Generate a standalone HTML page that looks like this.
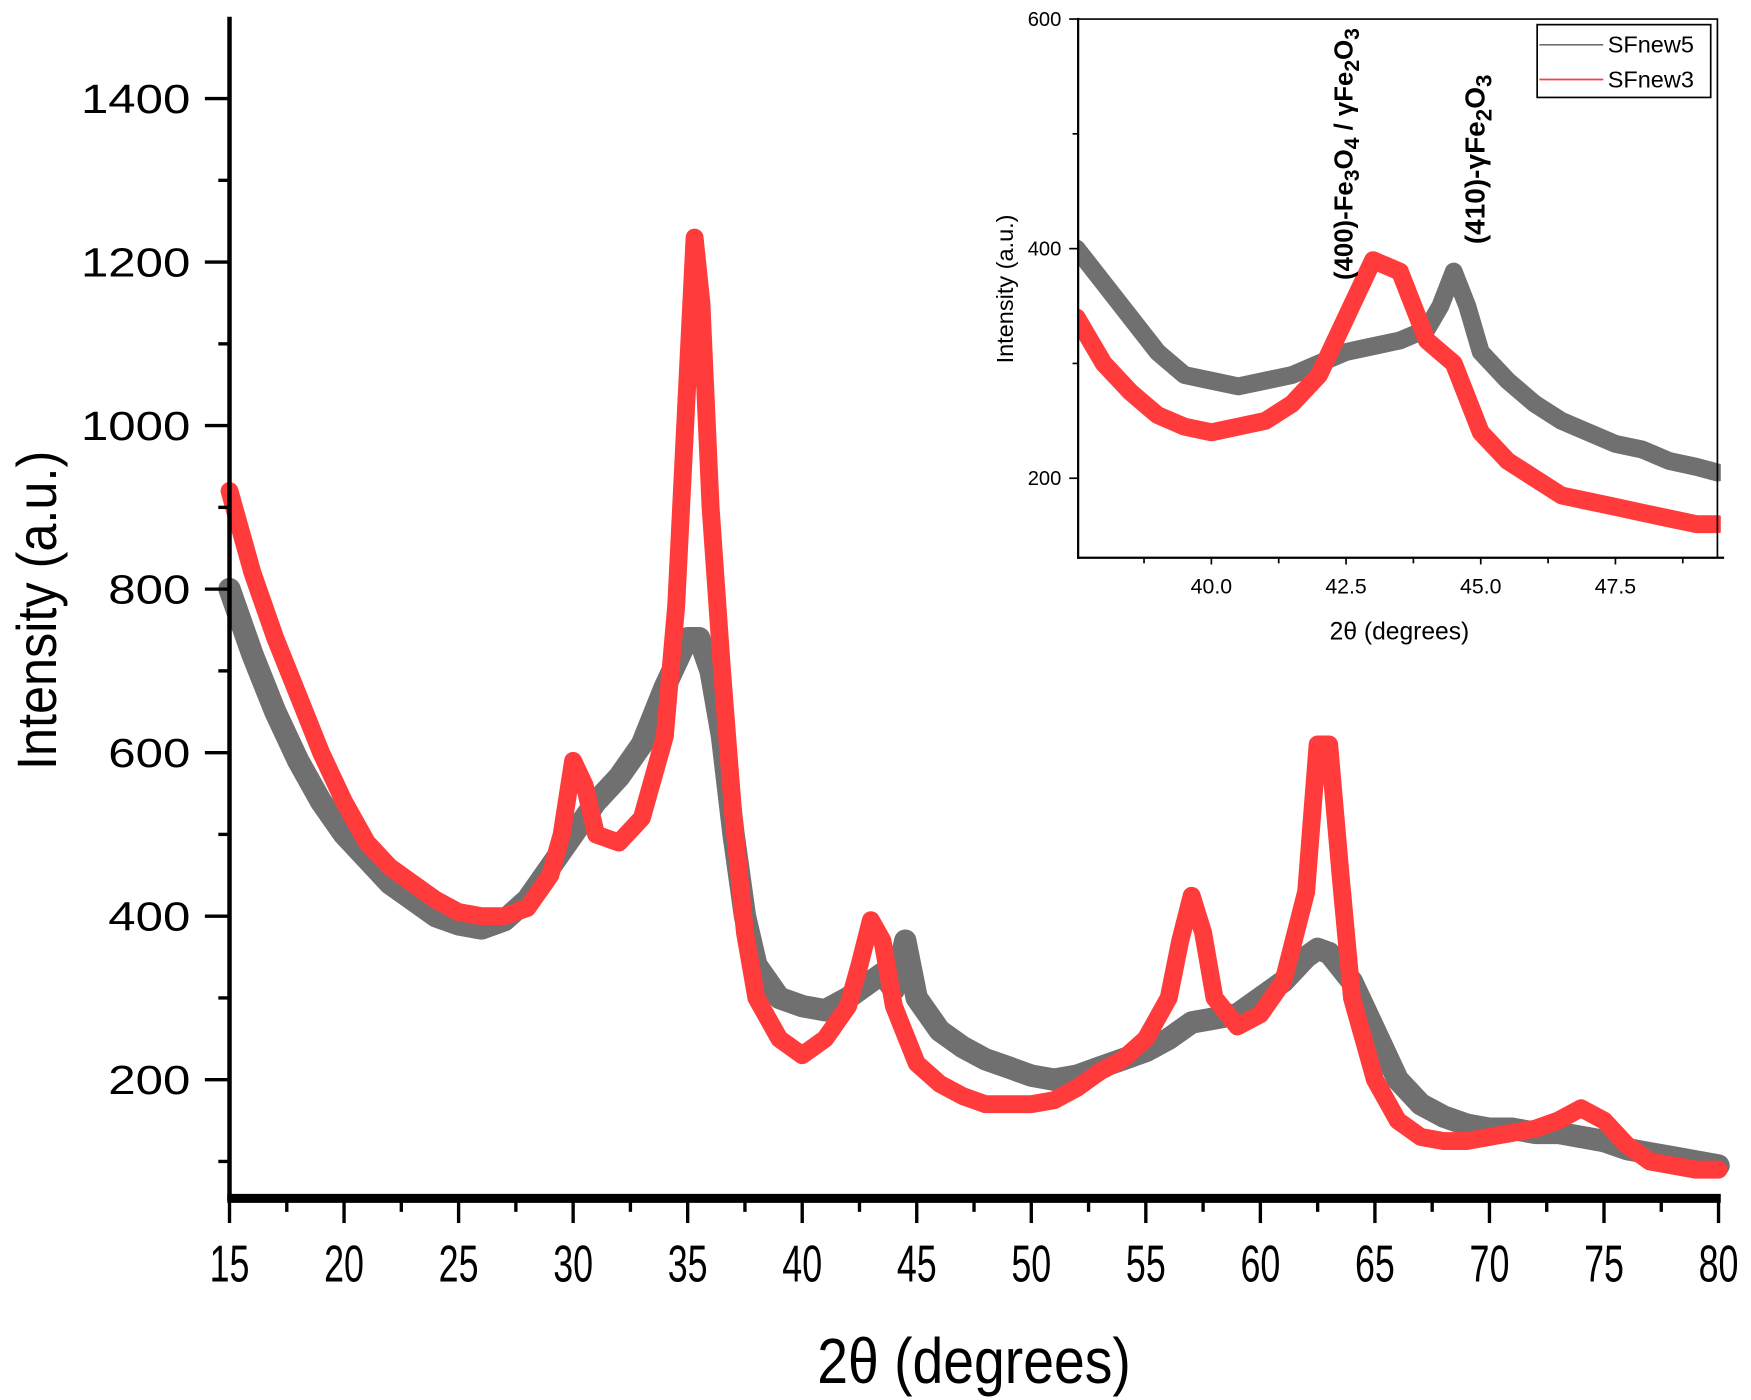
<!DOCTYPE html>
<html><head><meta charset="utf-8"><style>
html,body{margin:0;padding:0;background:#fff}
svg{display:block}
text{font-family:"Liberation Sans",sans-serif;fill:#000}
</style></head><body>
<svg id="chart" width="1751" height="1400" viewBox="0 0 1564 1250" preserveAspectRatio="none" xmlns="http://www.w3.org/2000/svg">
<g id="main"></g>
<g id="inset"></g>
</svg>
<script>
const mainX5=[15,16,17,18,19,20,21,22,23,24,25,26,27,28,29,30,31,32,33,34,35,35.5,36,36.5,37,37.5,38,39,40,41,42,43,43.5,44,44.5,45,46,47,48,49,50,51,52,53,54,55,56,57,58,59,60,61,62,62.5,63,64,65,66,67,68,69,70,71,72,73,74,75,76,77,78,79,80];
const mainY5=[800,720,650,590,540,500,470,440,420,400,390,385,395,420,460,500,540,570,610,680,740,740,700,620,500,400,340,300,290,285,300,320,330,310,370,300,260,240,225,215,205,200,205,215,225,235,250,270,275,280,300,320,350,360,355,320,260,200,170,155,145,140,140,135,135,130,125,115,110,105,100,95];
const mainX3=[15,16,17,18,19,20,21,22,23,24,25,26,27,28,29,29.5,30,30.5,31,32,33,34,34.5,35,35.3,35.6,36,36.5,37,37.5,38,39,40,41,42,42.5,43,43.5,44,45,46,47,48,49,50,51,52,53,54,55,56,56.5,57,57.5,58,59,60,61,62,62.5,63,63.5,64,65,66,67,68,69,70,71,72,73,74,75,76,77,78,79,80];
const mainY3=[920,820,740,670,600,540,490,460,440,420,405,400,400,410,450,500,590,560,500,490,520,620,780,1060,1230,1150,900,700,520,380,300,250,230,250,290,340,395,370,290,220,195,180,170,170,170,175,190,210,225,250,300,370,425,380,300,265,280,320,430,610,610,450,300,200,150,130,125,125,130,135,140,150,165,150,120,100,95,90,90];
const insX5=[37.5,38,38.5,39,39.5,40,40.5,41,41.5,42,42.5,43,43.5,44,44.25,44.5,44.75,45,45.5,46,46.5,47,47.5,48,48.5,49,49.4];
const insY5=[400,370,340,310,290,285,280,285,290,300,310,315,320,330,350,380,350,310,285,265,250,240,230,225,215,210,205];
const insX3=[37.5,38,38.5,39,39.5,40,40.5,41,41.5,42,42.5,43,43.5,44,44.5,45,45.5,46,46.5,47,47.5,48,48.5,49,49.4];
const insY3=[340,300,275,255,245,240,245,250,265,290,340,390,380,320,300,240,215,200,185,180,175,170,165,160,160];
const mainXTicks=[15,20,25,30,35,40,45,50,55,60,65,70,75,80];
const mainYTicks=[200,400,600,800,1000,1200,1400];
const insXTicks=["40.0","42.5","45.0","47.5"];
const insYTicks=[200,400,600];

const NS="http://www.w3.org/2000/svg";
function mk(p,t,a,txt){const e=document.createElementNS(NS,t);for(const k in a)e.setAttribute(k,a[k]);if(txt!==undefined)e.textContent=txt;p.appendChild(e);return e;}
const mx=v=>205+(v-15)*(1330/65);
const my=v=>964-(v-200)*0.73;
const ix=v=>1082+(v-40)*(120.3/2.5);
const iy=v=>427-(v-200)*(205/200);

const M=document.getElementById('main');
function series(g,xs,ys,fx,fy,color,w,name){
  const pts=xs.map((x,i)=>fx(x).toFixed(1)+','+fy(ys[i]).toFixed(1)).join(' ');
  const e=mk(g,'polyline',{points:pts,fill:'none',stroke:color,'stroke-width':w,'stroke-linejoin':'round','stroke-linecap':'round'});
  
  
}
series(M,mainX5,mainY5,mx,my,'#707070',20,'series-sfnew5');
series(M,mainX3,mainY3,mx,my,'#ff3b3b',16,'series-sfnew3');
let a=mk(M,'line',{x1:205,y1:15,x2:205,y2:1072,stroke:'#000','stroke-width':4});


a=mk(M,'line',{x1:203,y1:1070,x2:1537,y2:1070,stroke:'#000','stroke-width':8});


mainXTicks.forEach((v,i)=>{
  mk(M,'line',{x1:mx(v),y1:1070,x2:mx(v),y2:1092,stroke:'#000','stroke-width':3});
  if(i<mainXTicks.length-1) mk(M,'line',{x1:mx(v+2.5),y1:1070,x2:mx(v+2.5),y2:1082,stroke:'#000','stroke-width':3});
  const t=mk(M,'text',{x:0,y:0,'font-size':40,'text-anchor':'middle',transform:`translate(${mx(v)},1144) scale(0.8,1.15)`},String(v));
  
  
});
mainYTicks.forEach(v=>{
  mk(M,'line',{x1:183,y1:my(v),x2:205,y2:my(v),stroke:'#000','stroke-width':3});
  mk(M,'line',{x1:195,y1:my(v-100),x2:205,y2:my(v-100),stroke:'#000','stroke-width':3});
  const t=mk(M,'text',{x:0,y:0,'font-size':36,'text-anchor':'end',transform:`translate(170,${my(v)+13}) scale(1.22,1)`},String(v));
  
  
});
let t=mk(M,'text',{x:0,y:0,'font-size':50,'text-anchor':'middle',transform:'translate(50,545) rotate(-90) scale(0.9,1)'},'Intensity (a.u.)');


t=mk(M,'text',{x:0,y:0,'font-size':52,'text-anchor':'middle',transform:'translate(870,1235) scale(0.95,1.1)'},'2θ (degrees)');



const I=document.getElementById('inset');
mk(I,'rect',{x:963,y:17,width:571,height:481,fill:'#fff'});
const cp=mk(I,'clipPath',{id:'ic'});
mk(cp,'rect',{x:963,y:17,width:574,height:481});
const IG=mk(I,'g',{'clip-path':'url(#ic)'});
series(IG,insX5,insY5,ix,iy,'#707070',16,'inset-series-sfnew5');
series(IG,insX3,insY3,ix,iy,'#ff3b3b',16,'inset-series-sfnew3');
mk(I,'polyline',{points:'963,17 1534,17 1534,498',fill:'none',stroke:'#000','stroke-width':1.5});
a=mk(I,'line',{x1:963,y1:16,x2:963,y2:499,stroke:'#000','stroke-width':2});


a=mk(I,'line',{x1:962,y1:498,x2:1540,y2:498,stroke:'#000','stroke-width':2});


insXTicks.forEach(s=>{
  const v=parseFloat(s);
  mk(I,'line',{x1:ix(v),y1:498,x2:ix(v),y2:504,stroke:'#000','stroke-width':1.5});
  mk(I,'line',{x1:ix(v-1.25),y1:498,x2:ix(v-1.25),y2:503,stroke:'#000','stroke-width':1.5});
  const t=mk(I,'text',{x:ix(v),y:530,'font-size':19,'text-anchor':'middle'},s);
  
  
});
mk(I,'line',{x1:ix(48.75),y1:498,x2:ix(48.75),y2:503,stroke:'#000','stroke-width':1.5});
insYTicks.forEach(v=>{
  mk(I,'line',{x1:955,y1:iy(v),x2:963,y2:iy(v),stroke:'#000','stroke-width':1.5});
  mk(I,'line',{x1:958,y1:iy(v+100),x2:963,y2:iy(v+100),stroke:'#000','stroke-width':1.5});
  const t=mk(I,'text',{x:948,y:iy(v)+6,'font-size':18,'text-anchor':'end'},String(v));
  
  
});
t=mk(I,'text',{x:0,y:0,'font-size':21,'text-anchor':'middle',transform:'translate(905,258) rotate(-90)'},'Intensity (a.u.)');


t=mk(I,'text',{x:1250,y:571,'font-size':22,'text-anchor':'middle'},'2θ (degrees)');


t=mk(I,'text',{x:0,y:0,'font-size':23,'font-weight':'bold',transform:'translate(1208,250) rotate(-90)'});
t.innerHTML='(400)-Fe<tspan dy="6" font-size="19">3</tspan><tspan dy="-6">O</tspan><tspan dy="6" font-size="19">4</tspan><tspan dy="-6"> / γFe</tspan><tspan dy="6" font-size="19">2</tspan><tspan dy="-6">O</tspan><tspan dy="6" font-size="19">3</tspan>';


t=mk(I,'text',{x:0,y:0,'font-size':25,'font-weight':'bold',transform:'translate(1326,218) rotate(-90)'});
t.innerHTML='(410)-γFe<tspan dy="6" font-size="20">2</tspan><tspan dy="-6">O</tspan><tspan dy="6" font-size="20">3</tspan>';


const L=mk(I,'g',{});


mk(L,'rect',{x:1373,y:22,width:155,height:65,fill:'#fff',stroke:'#000','stroke-width':1.5});
mk(L,'line',{x1:1375,y1:40,x2:1432,y2:40,stroke:'#707070','stroke-width':1.5});
mk(L,'line',{x1:1375,y1:71,x2:1432,y2:71,stroke:'#ff3b3b','stroke-width':1.5});
t=mk(L,'text',{x:1436,y:47,'font-size':21},'SFnew5');


t=mk(L,'text',{x:1436,y:78,'font-size':21},'SFnew3');


</script>
</body></html>
